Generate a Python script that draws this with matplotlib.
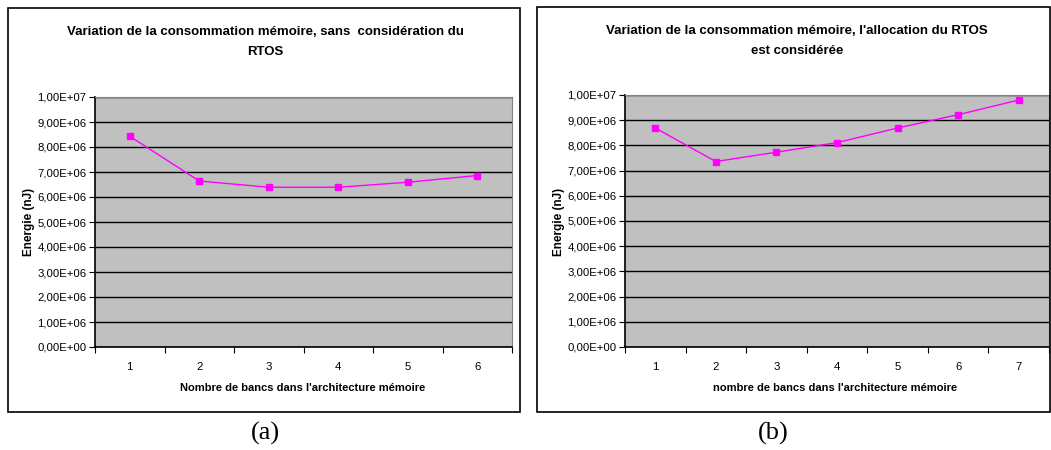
import matplotlib.pyplot as plt
from matplotlib.patches import Rectangle
from matplotlib.ticker import FuncFormatter, MultipleLocator, FixedLocator

# -----------------------------
# Données
# -----------------------------
banks_a = [1, 2, 3, 4, 5, 6]
energy_a = [8.43e6, 6.64e6, 6.39e6, 6.39e6, 6.59e6, 6.86e6]

banks_b = [1, 2, 3, 4, 5, 6, 7]
energy_b = [8.69e6, 7.36e6, 7.73e6, 8.11e6, 8.69e6, 9.22e6, 9.80e6]

title_a = "Variation de la consommation mémoire, sans  considération du\nRTOS"
title_b = "Variation de la consommation mémoire, l'allocation du RTOS\nest considérée"
xlabel_a = "Nombre de bancs dans l'architecture mémoire"
xlabel_b = "nombre de bancs dans l'architecture mémoire"
ylabel = "Energie (nJ)"

W, H = 1051, 450
plt.rcParams['font.family'] = ['Liberation Sans', 'DejaVu Sans']


def px_box(left, top, right, bottom):
    """Pixels (origine en haut à gauche) -> coordonnées figure."""
    return [left / W, 1 - bottom / H, (right - left) / W, (bottom - top) / H]


def sci_fr(v, pos):
    return f"{v:.2E}".replace(".", ",")


def draw_chart(fig, box, frame, x, y, title, xlabel, title_xy, xlabel_xy, ylabel_x, caption, caption_xy):
    # cadre du graphique
    l, t, r, b = frame
    fig.patches.append(Rectangle((l / W, 1 - b / H), (r - l) / W, (b - t) / H,
                                 transform=fig.transFigure, fill=False,
                                 edgecolor="black", lw=1.2))
    ax = fig.add_axes(px_box(*box))
    ax.set_facecolor("#C0C0C0")
    n = len(x)
    ax.plot(x, y, color="#FF00FF", lw=1.0, marker="s", ms=5,
            markerfacecolor="#FF00FF", markeredgecolor="#FF00FF", zorder=3)
    ax.set_xlim(0.5, n + 0.5)
    ax.set_ylim(0, 1e7)
    ax.yaxis.set_major_locator(MultipleLocator(1e6))
    ax.yaxis.set_major_formatter(FuncFormatter(sci_fr))
    ax.grid(axis="y", color="black", lw=1.0)
    ax.set_axisbelow(True)
    # axe des catégories : graduations entre les catégories
    ax.xaxis.set_major_locator(FixedLocator([i + 0.5 for i in range(n + 1)]))
    ax.xaxis.set_minor_locator(FixedLocator(x))
    ax.set_xticklabels([])
    ax.set_xticklabels([str(v) for v in x], minor=True)
    ax.tick_params(axis="x", which="major", length=4, direction="out", color="black")
    ax.tick_params(axis="x", which="minor", length=0, pad=11, labelsize=8.2)
    ax.tick_params(axis="y", length=4, direction="out", labelsize=8.2, pad=2)
    for side in ("top", "right"):
        ax.spines[side].set_color("#808080")
    for side in ("left", "bottom"):
        ax.spines[side].set_color("black")
        ax.spines[side].set_linewidth(1.2)

    fig.text(title_xy[0] / W, 1 - title_xy[1] / H, title, ha="center", va="center",
             fontsize=9.5, fontweight="bold", linespacing=1.85)
    fig.text(xlabel_xy[0] / W, 1 - xlabel_xy[1] / H, xlabel, ha="center", va="center",
             fontsize=8, fontweight="bold")
    fig.text(ylabel_x / W, 1 - 222 / H, ylabel, ha="center", va="center",
             fontsize=8.5, fontweight="bold", rotation=90)
    fig.text(caption_xy[0] / W, 1 - caption_xy[1] / H, caption, ha="center", va="center",
             fontsize=19, family="Liberation Serif")
    return ax


fig = plt.figure(figsize=(W / 100, H / 100), dpi=100)

draw_chart(fig, (95, 97, 512, 347), (8, 8, 520, 412), banks_a, energy_a,
           title_a, xlabel_a, (265, 42), (303, 388), 29, "(a)", (265, 433))
draw_chart(fig, (625, 95, 1049, 347), (537, 7, 1050, 412), banks_b, energy_b,
           title_b, xlabel_b, (797, 41), (835, 388), 559, "(b)", (773, 433))

fig.savefig("out.png", dpi=100)
